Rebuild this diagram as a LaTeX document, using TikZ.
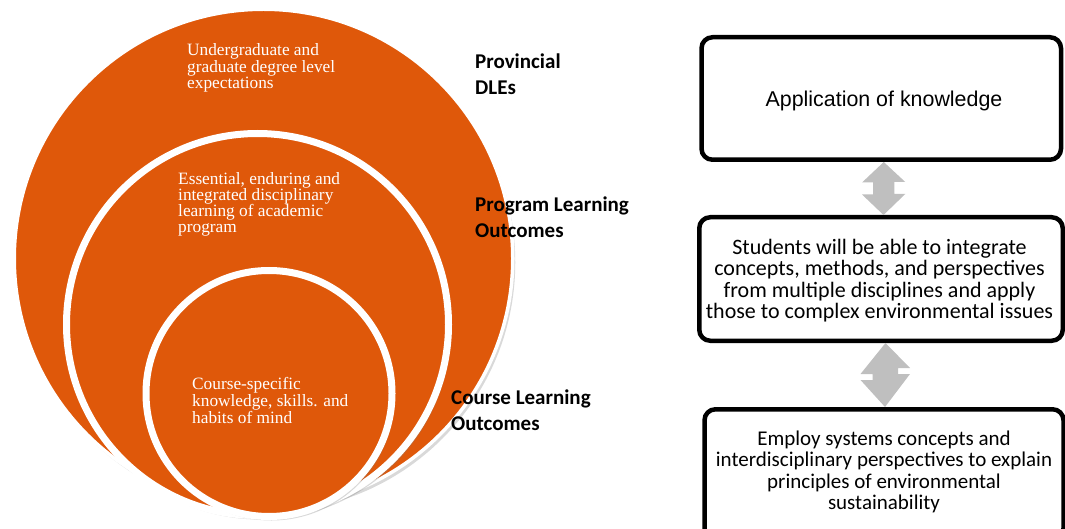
\documentclass[tikz,border=0pt]{standalone}
\usepackage{fontspec}
\setmainfont{Liberation Serif}
\newfontfamily\carlito{Carlito}
\newfontfamily\arialx{Liberation Sans}
\usetikzlibrary{shadows}
\definecolor{ringorange}{RGB}{223,88,10}
\definecolor{arrowgray}{RGB}{191,191,191}
\begin{document}
\begin{tikzpicture}[x=1pt,y=-1pt,
  ring/.style={circle, fill=ringorange, draw=white, inner sep=0pt,
    drop shadow={opacity=0.3, shadow xshift=2.5pt, shadow yshift=-4pt}},
  ringtext/.style={anchor=base west, align=left, inner sep=0pt, text=white,
    font=\fontsize{17.3}{15}\selectfont},
  levellabel/.style={anchor=base west, align=left, inner sep=0pt,
    font=\carlito\bfseries\fontsize{21}{26}\selectfont},
  outcomebox/.style={draw=black, fill=white, line width=4.5pt, rounded corners=11pt,
    inner sep=0pt},
  boxtext/.style={align=center, inner sep=0pt, font=\carlito\fontsize{22}{21.5}\selectfont},
  dblarrow/.style={fill=arrowgray}
]
\useasboundingbox (0,0) rectangle (1065,529);
\clip (0,0) rectangle (1065,529);

% nested circles
\node[ring, line width=3.5pt, minimum size=498.5pt] (outer) at (263.5,258.5) {};
\node[ring, line width=7pt, minimum size=382pt] (middle) at (257.5,324.5) {};
\node[ring, line width=7pt, minimum size=246pt] (inner) at (269,393.5) {};

% texts (anchor = baseline of the last line)
\node[ringtext] (touter) at (187,88.5) {Undergraduate and\\graduate degree level\\expectations};
\node[ringtext, font=\fontsize{17.3}{16.3}\selectfont] (tmiddle) at (178,233) {Essential, enduring and\\integrated disciplinary\\learning of academic\\program};
\node[ringtext, font=\fontsize{17.3}{15.5}\selectfont] (tinner) at (192,423) {Course-specific\\knowledge, skills. and\\habits of mind};

% level labels
\node[levellabel] (lprov) at (475,95) {Provincial\\DLEs};
\node[levellabel] (lprog) at (475,238) {Program Learning\\Outcomes};
\node[levellabel] (lcourse) at (451,430) {Course Learning\\Outcomes};

% outcome boxes
\node[outcomebox, minimum width=359.5pt, minimum height=122.5pt] (b1) at (881.25,98.5) {};
\node[outcomebox, minimum width=363.5pt, minimum height=123.5pt] (b2) at (881,279) {};
\node[outcomebox, minimum width=359pt, minimum height=130pt] (b3) at (884,474.25) {};

\node[inner sep=0pt, font=\arialx\fontsize{21.4}{25}\selectfont] (t1) at (884,101) {Application of knowledge};
\node[boxtext] (t2) at (879.5,280.5) {Students will be able to integrate\\concepts, methods, and perspectives\\from multiple disciplines and apply\\those to complex environmental issues};
\node[boxtext, font=\carlito\fontsize{21}{21.4}\selectfont] (t3) at (884,472) {Employ systems concepts and\\interdisciplinary perspectives to explain\\principles of environmental\\sustainability};

% double arrows between boxes
\fill[dblarrow] ([xshift=2.5pt]b1.south) -- ++(21.5,20) -- ++(-11,0) -- ++(0,12)
  -- ++(11,0) -- ([xshift=2.5pt]b2.north) -- ++(-21.5,-20.5) -- ++(11,0) -- ++(0,-12)
  -- ++(-11,0) -- cycle;
\fill[dblarrow] ([xshift=4.5pt]b2.south) -- ++(24.5,25) -- ++(-12,0) -- ++(0,6)
  -- ++(12,0) -- ([xshift=1pt]b3.north) -- ++(-24.5,-27) -- ++(12,0) -- ++(0,-6)
  -- ++(-12,0) -- cycle;
\end{tikzpicture}
\end{document}
